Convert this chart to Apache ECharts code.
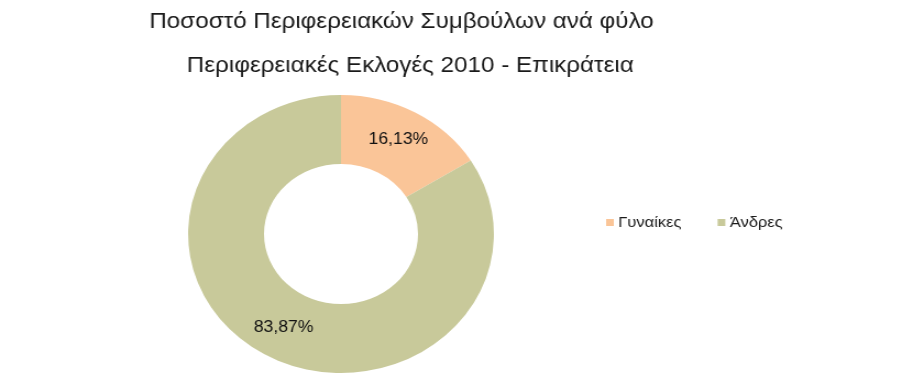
<!DOCTYPE html>
<html><head><meta charset="utf-8">
<script src="https://cdn.jsdelivr.net/npm/echarts@6/dist/echarts.min.js"></script>
<style>
html,body{margin:0;padding:0;background:#fff;overflow:hidden;}
#wrap{width:899px;height:379px;overflow:hidden;}
#c{width:817px;height:379px;transform:scaleX(1.1);transform-origin:0 0;}
</style></head>
<body><div id="wrap"><div id="c"></div></div>
<script>
const titleLine1 = 'Ποσοστό Περιφερειακών Συμβούλων ανά φύλο';
const titleLine2 = 'Περιφερειακές Εκλογές 2010 - Επικράτεια';
const categories = ['Γυναίκες', 'Άνδρες'];
const values = [16.13, 83.87];
const colors = ['#FAC598', '#C8C99A'];

const chart = echarts.init(document.getElementById('c'), null, {renderer: 'canvas'});
chart.setOption({
  animation: false,
  title: [
    {text: titleLine1, left: 360, top: 6, textAlign: 'center',
     textStyle: {fontFamily: 'Liberation Sans, Arial', fontSize: 22, fontWeight: 'normal', color: '#1a1a1a'}},
    {text: titleLine2, left: 368, top: 50, textAlign: 'center',
     textStyle: {fontFamily: 'Liberation Sans, Arial', fontSize: 22, fontWeight: 'normal', color: '#1a1a1a'}}
  ],
  legend: {
    left: 546, top: 210, orient: 'horizontal', itemGap: 33,
    itemWidth: 7, itemHeight: 7, icon: 'rect',
    textStyle: {fontFamily: 'Liberation Sans, Arial', fontSize: 15, color: '#1a1a1a', padding: [0,0,0,-1]},
    data: categories
  },
  series: [{
    type: 'pie',
    center: [310, 234],
    radius: [70, 139],
    startAngle: 90,
    clockwise: true,
    silent: true,
    label: {
      show: true, position: 'inside',
      fontFamily: 'Liberation Sans, Arial', fontSize: 16, color: '#111',
      formatter: p => String(p.value.toFixed(2)).replace('.', ',') + '%'
    },
    labelLine: {show: false},
    data: categories.map((n, i) => ({name: n, value: values[i], itemStyle: {color: colors[i]}}))
  }]
});
</script></body></html>
